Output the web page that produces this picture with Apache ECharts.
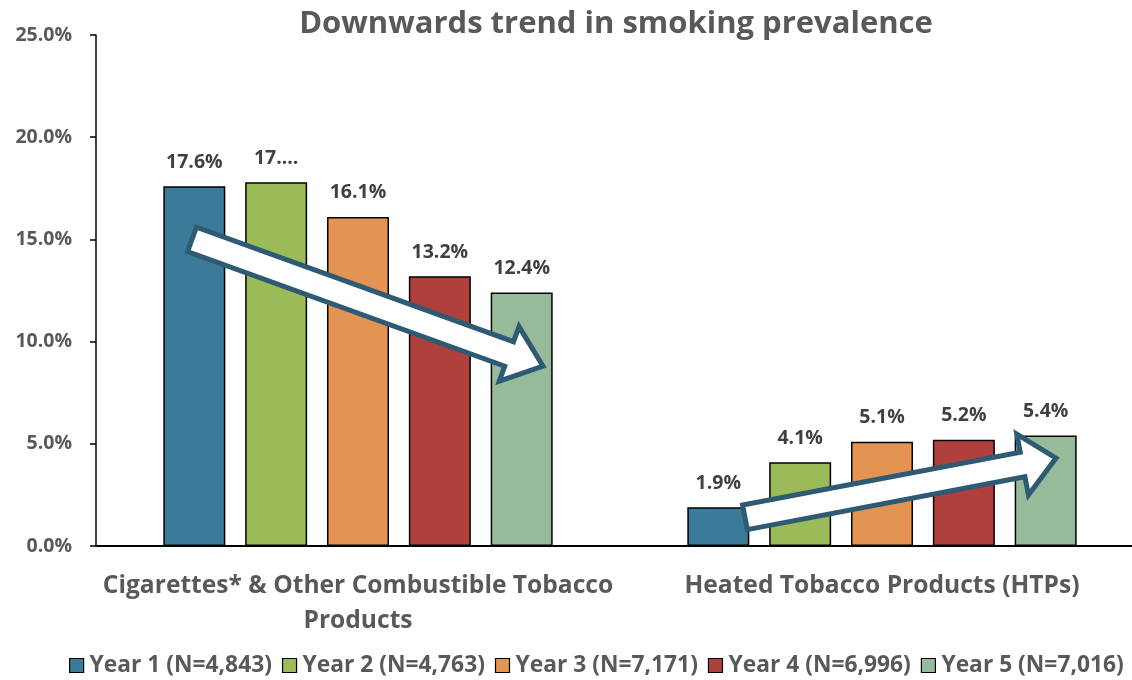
<!DOCTYPE html>
<html>
<head>
<meta charset="utf-8">
<script src="https://cdn.jsdelivr.net/npm/echarts@6/dist/echarts.min.js"></script>
<style>
  html, body { margin: 0; padding: 0; background: #fff; }
  #chart { width: 1132px; height: 680px; }
</style>
</head>
<body>
<div id="chart"></div>
<script>
// Categories on the x axis
const categories = [
  'Cigarettes* & Other Combustible Tobacco\nProducts',
  'Heated Tobacco Products (HTPs)'
];

// Survey waves (legend names)
const seriesNames = [
  'Year 1 (N=4,843)',
  'Year 2 (N=4,763)',
  'Year 3 (N=7,171)',
  'Year 4 (N=6,996)',
  'Year 5 (N=7,016)'
];

// Prevalence (%) per wave, one value per category
const year1 = [17.6, 1.9];
const year2 = [17.8, 4.1];
const year3 = [16.1, 5.1];
const year4 = [13.2, 5.2];
const year5 = [12.4, 5.4];

// Y axis ticks (%)
const yTicks = [0, 5, 10, 15, 20, 25];

const values = [year1, year2, year3, year4, year5];
const colors = ['#3B7A98', '#9BBB59', '#E39452', '#B0403B', '#97BB9A'];

const FONT = '"Open Sans", Lato, sans-serif';
const GREY = '#595959';

const chart = echarts.init(document.getElementById('chart'));

const series = values.map((vals, i) => ({
  name: seriesNames[i],
  type: 'bar',
  data: vals,
  barWidth: 62,
  barGap: '32%',
  itemStyle: { color: colors[i], borderColor: '#000', borderWidth: 1.5 },
  label: {
    show: true,
    position: 'top',
    distance: 14,
    color: '#404040',
    fontFamily: FONT,
    fontWeight: 'bold',
    fontSize: 19.5,
    // the Year 2 combustible label is shown truncated
    formatter: p => (i === 1 && p.dataIndex === 0) ? '17....' : p.value.toFixed(1) + '%'
  },
  z: 2
}));

chart.setOption({
  animation: false,
  title: {
    text: 'Downwards trend in smoking prevalence',
    left: 611,
    textAlign: 'center',
    top: 4,
    textStyle: { fontFamily: FONT, fontWeight: 'bold', fontSize: 31, color: GREY }
  },
  legend: {
    top: 649,
    left: 64,
    itemWidth: 14,
    itemHeight: 14,
    itemGap: 10,
    icon: 'rect',
    itemStyle: { borderColor: '#000', borderWidth: 1.2 },
    textStyle: { fontFamily: FONT, fontWeight: 'bold', fontSize: 22.8, color: GREY, padding: [0, 0, 0, 1] },
    data: seriesNames
  },
  grid: { left: 96, top: 35, width: 1048, height: 511, containLabel: false, outerBoundsMode: 'none' },
  xAxis: {
    type: 'category',
    data: categories,
    axisLine: { lineStyle: { color: '#000', width: 2 } },
    axisTick: { show: false },
    axisLabel: {
      interval: 0,
      margin: 22,
      lineHeight: 35,
      fontFamily: FONT,
      fontWeight: 'bold',
      fontSize: 24.6,
      color: GREY,
      align: 'center'
    }
  },
  yAxis: {
    type: 'value',
    min: yTicks[0],
    max: yTicks[yTicks.length - 1],
    interval: yTicks[1] - yTicks[0],
    splitLine: { show: false },
    axisLine: { show: true, lineStyle: { color: '#000', width: 1.5 } },
    axisTick: { show: true, length: 6, inside: false, lineStyle: { color: '#000', width: 1.5 } },
    axisLabel: {
      margin: 24,
      fontFamily: FONT,
      fontWeight: 'bold',
      fontSize: 19.5,
      color: GREY,
      formatter: v => v.toFixed(1) + '%'
    }
  },
  series: series
});

// Block-arrow outline from tail centre to tip
function arrowPoints(tail, tip, hw, hh, hl) {
  const dx = tip[0] - tail[0], dy = tip[1] - tail[1];
  const len = Math.hypot(dx, dy);
  const ux = dx / len, uy = dy / len;
  const nx = -uy, ny = ux;
  const bx = tip[0] - ux * hl, by = tip[1] - uy * hl;
  return [
    [tail[0] + nx * hw, tail[1] + ny * hw],
    [bx + nx * hw, by + ny * hw],
    [bx + nx * hh, by + ny * hh],
    [tip[0], tip[1]],
    [bx - nx * hh, by - ny * hh],
    [bx - nx * hw, by - ny * hw],
    [tail[0] - nx * hw, tail[1] - ny * hw]
  ];
}

// Trend arrows: anchored in data space (category index, percent)
function px(cat, offset, pct) {
  const p = chart.convertToPixel({ gridIndex: 0 }, [cat, pct]);
  return [p[0] + offset, p[1]];
}

const arrowStyle = { fill: '#fff', stroke: '#2E5B73', lineWidth: 5, lineJoin: 'miter' };
const downTail = px(0, -166, 15.0);
const downTip = px(0, 185, 8.8);
const upTail = px(1, -137, 1.4);
const upTip = px(1, 174, 4.3);

chart.setOption({
  graphic: [
    { type: 'polygon', z: 10, shape: { points: arrowPoints(downTail, downTip, 13, 29, 36) }, style: arrowStyle },
    { type: 'polygon', z: 10, shape: { points: arrowPoints(upTail, upTip, 12.5, 31, 34) }, style: arrowStyle }
  ]
});
</script>
</body>
</html>
